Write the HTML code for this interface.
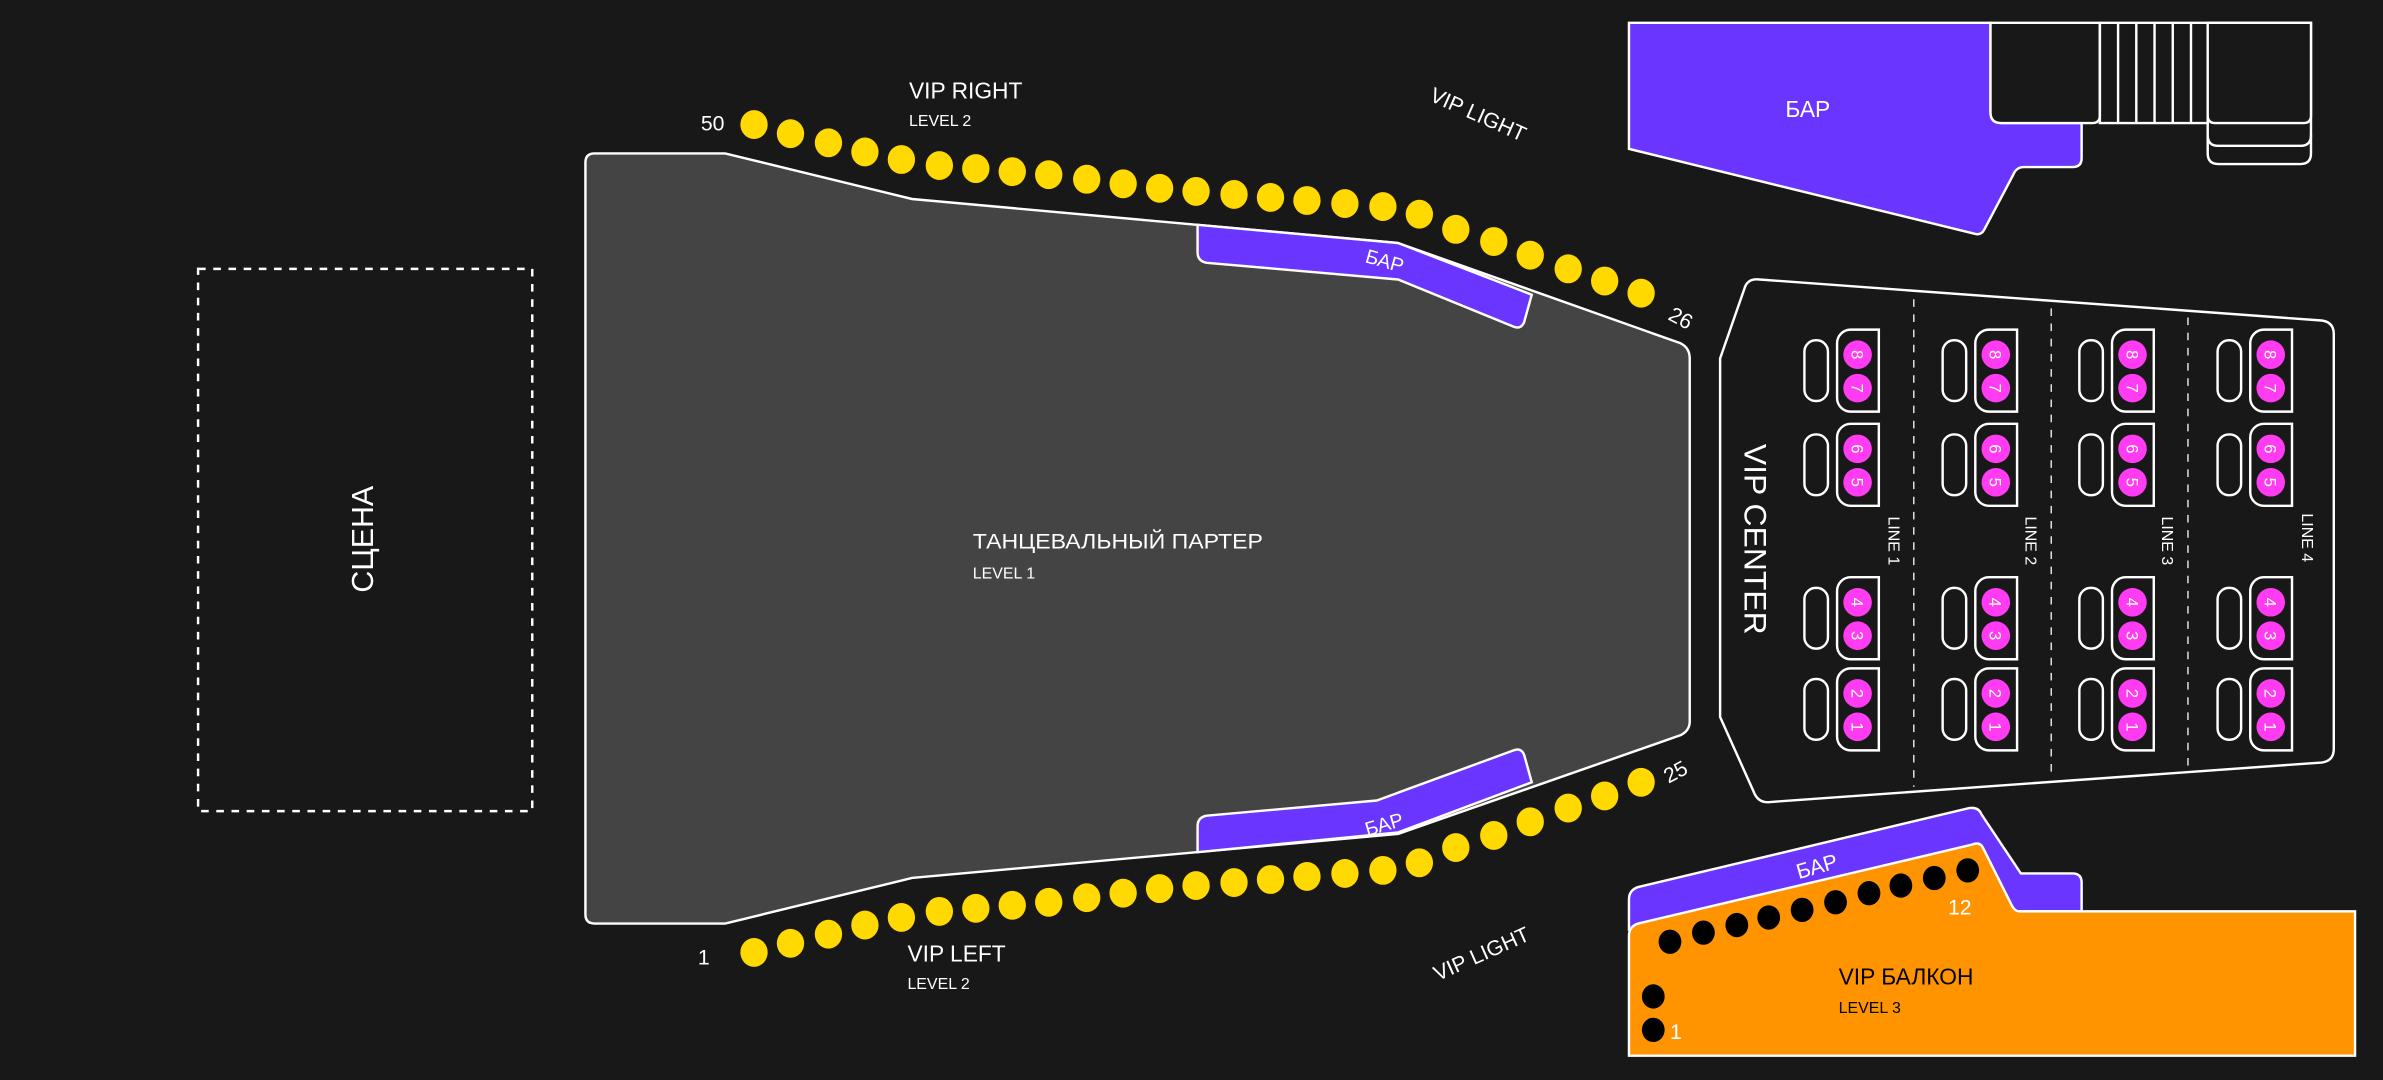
<!DOCTYPE html>
<html><head><meta charset="utf-8"><style>
html,body{margin:0;padding:0;background:#181818;}
svg{display:block;}
text{font-family:"Liberation Sans",sans-serif;}
</style></head><body>
<svg width="2383" height="1080" viewBox="0 0 1568 711" xmlns="http://www.w3.org/2000/svg">
<defs>
<g id="grp">
  <rect x="1187.5" y="224" width="15.5" height="40" rx="7.5" fill="none" stroke="#fff" stroke-width="1.6"/>
  <path d="M1236.5,217 H1218 a9,9 0 0 0 -9,9 V262 a9,9 0 0 0 9,9 H1236.5 Z" fill="none" stroke="#fff" stroke-width="1.6"/>
</g>
</defs>
<rect width="1568" height="711" fill="#181818"/>

<!-- stage -->
<rect x="130" y="177" width="220" height="357" fill="none" stroke="#fff" stroke-width="1.6" stroke-dasharray="5,5"/>
<text transform="translate(245,355) rotate(-90)" text-anchor="middle" font-size="20" fill="#fff">СЦЕНА</text>

<!-- parterre -->
<path d="M391,101 L477,101 L600,131 L920,160 L1106,226 Q1112,229 1112,236 L1112,475 Q1112,481 1106,484 L920,549 L600,578 L477,608 L391,608 Q385,608 385,602 L385,107 Q385,101 391,101 Z" fill="#444" stroke="#fff" stroke-width="1.6"/>
<path d="M788,148 L920,160 L1008,194 L1003,212 Q1001,217 996,215 L920,184 L794,173 Q788,172 788,166 Z" fill="#6a35ff" stroke="#fff" stroke-width="1.6"/>
<text transform="translate(910,176) rotate(16)" text-anchor="middle" font-size="13" fill="#fff">БАР</text>
<path d="M788,561 L920,548 L1008,515 L1003,497 Q1001,492 996,494 L906,527 L794,537 Q788,538 788,544 Z" fill="#6a35ff" stroke="#fff" stroke-width="1.6"/>
<text transform="translate(912,547) rotate(-16)" text-anchor="middle" font-size="13" fill="#fff">БАР</text>
<text x="640" y="361" font-size="14" fill="#fff" textLength="191" lengthAdjust="spacingAndGlyphs">ТАНЦЕВАЛЬНЫЙ ПАРТЕР</text>
<text x="640" y="381" font-size="10.5" fill="#fff">LEVEL 1</text>

<!-- yellow dots top -->
<g fill="#ffd900">
<ellipse cx="496" cy="82" rx="9" ry="9.5"/><ellipse cx="520" cy="88" rx="9" ry="9.5"/><ellipse cx="545" cy="94" rx="9" ry="9.5"/><ellipse cx="569" cy="100" rx="9" ry="9.5"/><ellipse cx="593" cy="105" rx="9" ry="9.5"/><ellipse cx="618" cy="109" rx="9" ry="9.5"/><ellipse cx="642" cy="111" rx="9" ry="9.5"/><ellipse cx="666" cy="113" rx="9" ry="9.5"/><ellipse cx="690" cy="115" rx="9" ry="9.5"/><ellipse cx="715" cy="118" rx="9" ry="9.5"/><ellipse cx="739" cy="121" rx="9" ry="9.5"/><ellipse cx="763" cy="124" rx="9" ry="9.5"/><ellipse cx="787" cy="126" rx="9" ry="9.5"/><ellipse cx="812" cy="128" rx="9" ry="9.5"/><ellipse cx="836" cy="130" rx="9" ry="9.5"/><ellipse cx="860" cy="132" rx="9" ry="9.5"/><ellipse cx="885" cy="134" rx="9" ry="9.5"/><ellipse cx="910" cy="136" rx="9" ry="9.5"/><ellipse cx="934" cy="141" rx="9" ry="9.5"/><ellipse cx="958" cy="151" rx="9" ry="9.5"/><ellipse cx="983" cy="159" rx="9" ry="9.5"/><ellipse cx="1007" cy="168" rx="9" ry="9.5"/><ellipse cx="1032" cy="177" rx="9" ry="9.5"/><ellipse cx="1056" cy="185" rx="9" ry="9.5"/><ellipse cx="1080" cy="193" rx="9" ry="9.5"/>
</g>
<!-- yellow dots bottom -->
<g fill="#ffd900">
<ellipse cx="496" cy="627" rx="9" ry="9.5"/><ellipse cx="520" cy="621" rx="9" ry="9.5"/><ellipse cx="545" cy="615" rx="9" ry="9.5"/><ellipse cx="569" cy="609" rx="9" ry="9.5"/><ellipse cx="593" cy="604" rx="9" ry="9.5"/><ellipse cx="618" cy="600" rx="9" ry="9.5"/><ellipse cx="642" cy="598" rx="9" ry="9.5"/><ellipse cx="666" cy="596" rx="9" ry="9.5"/><ellipse cx="690" cy="594" rx="9" ry="9.5"/><ellipse cx="715" cy="591" rx="9" ry="9.5"/><ellipse cx="739" cy="588" rx="9" ry="9.5"/><ellipse cx="763" cy="585" rx="9" ry="9.5"/><ellipse cx="787" cy="583" rx="9" ry="9.5"/><ellipse cx="812" cy="581" rx="9" ry="9.5"/><ellipse cx="836" cy="579" rx="9" ry="9.5"/><ellipse cx="860" cy="577" rx="9" ry="9.5"/><ellipse cx="885" cy="575" rx="9" ry="9.5"/><ellipse cx="910" cy="573" rx="9" ry="9.5"/><ellipse cx="934" cy="568" rx="9" ry="9.5"/><ellipse cx="958" cy="558" rx="9" ry="9.5"/><ellipse cx="983" cy="550" rx="9" ry="9.5"/><ellipse cx="1007" cy="541" rx="9" ry="9.5"/><ellipse cx="1032" cy="532" rx="9" ry="9.5"/><ellipse cx="1056" cy="524" rx="9" ry="9.5"/><ellipse cx="1080" cy="515" rx="9" ry="9.5"/>
</g>
<text x="461" y="86" font-size="14" fill="#fff">50</text>
<text transform="translate(1097,210) rotate(28)" font-size="14" fill="#fff">26</text>
<text x="459" y="635" font-size="14" fill="#fff">1</text>
<text transform="translate(1098,516) rotate(-28)" font-size="14" fill="#fff">25</text>
<text x="598" y="65" font-size="15" fill="#fff">VIP RIGHT</text>
<text x="598" y="83" font-size="10.5" fill="#fff">LEVEL 2</text>
<text x="597" y="633" font-size="15" fill="#fff">VIP LEFT</text>
<text x="597" y="651" font-size="10.5" fill="#fff">LEVEL 2</text>
<text transform="translate(940,66) rotate(24)" font-size="14" fill="#fff">VIP LIGHT</text>
<text transform="translate(946,646) rotate(-24)" font-size="14" fill="#fff">VIP LIGHT</text>

<!-- top right bar -->
<path d="M1072,15 L1310,15 L1310,74 Q1310,81 1317,81 L1370,81 L1370,104 Q1370,110 1364,110 L1332,110 Q1327,110 1325,115 L1306,151 Q1304,155 1300,154 L1072,98 Z" fill="#6a35ff" stroke="#fff" stroke-width="1.6"/>
<text x="1175" y="77" font-size="15" fill="#fff">БАР</text>
<path d="M1453,15 L1521,15 L1521,101 Q1521,108 1514,108 L1460,108 Q1453,108 1453,101 L1453,81" fill="none" stroke="#fff" stroke-width="1.6"/>
<path d="M1453,89 Q1453,96 1460,96 L1514,96 Q1521,96 1521,89" fill="none" stroke="#fff" stroke-width="1.6"/>
<path d="M1310,15 L1382,15 L1382,76 Q1382,81 1377,81 L1317,81 Q1310,81 1310,74 Z" fill="#181818" stroke="#fff" stroke-width="1.6"/>
<path d="M1382,15 L1382,81 L1453,81 L1453,15 M1394,15 V81 M1406,15 V81 M1418,15 V81 M1430,15 V81 M1442,15 V81 M1382,15 H1453" fill="none" stroke="#fff" stroke-width="1.6"/>
<path d="M1453,15 L1521,15 L1521,76 Q1521,81 1516,81 L1458,81 Q1453,81 1453,76 Z" fill="#181818" stroke="#fff" stroke-width="1.6"/>

<!-- VIP center -->
<path d="M1158,184 L1528,211 Q1536,212 1536,220 L1536,493 Q1536,501 1528,502 L1165,528 Q1157,529 1154,521 L1132,472 L1132,236 L1148,190 Q1150,183 1158,184 Z" fill="#181818" stroke="#fff" stroke-width="1.6"/>
<g stroke="#ddd" stroke-width="1" stroke-dasharray="5,5">
<line x1="1259.5" y1="197" x2="1259.5" y2="518"/>
<line x1="1350" y1="203" x2="1350" y2="512"/>
<line x1="1440" y1="209" x2="1440" y2="506"/>
</g>
<text transform="translate(1148,355) rotate(90)" text-anchor="middle" font-size="21" fill="#fff">VIP CENTER</text>
<g font-size="10.5" fill="#fff">
<text transform="translate(1243,340) rotate(90)">LINE 1</text>
<text transform="translate(1333,340) rotate(90)">LINE 2</text>
<text transform="translate(1423,340) rotate(90)">LINE 3</text>
<text transform="translate(1515,338) rotate(90)">LINE 4</text>
</g>

<g id="col">
  <use href="#grp"/>
  <use href="#grp" transform="translate(0,62)"/>
  <use href="#grp" transform="translate(0,163)"/>
  <use href="#grp" transform="translate(0,223)"/>
  <g fill="#ff3cf2">
    <circle cx="1222.5" cy="233.5" r="9.4"/><circle cx="1222.5" cy="255.5" r="9.4"/>
    <circle cx="1222.5" cy="295.5" r="9.4"/><circle cx="1222.5" cy="317.5" r="9.4"/>
    <circle cx="1222.5" cy="396.5" r="9.4"/><circle cx="1222.5" cy="418.5" r="9.4"/>
    <circle cx="1222.5" cy="456.5" r="9.4"/><circle cx="1222.5" cy="478.5" r="9.4"/>
  </g>
  <g font-size="11" fill="#fff" text-anchor="middle">
    <text transform="translate(1218.5,233.5) rotate(90)">8</text>
    <text transform="translate(1218.5,255.5) rotate(90)">7</text>
    <text transform="translate(1218.5,295.5) rotate(90)">6</text>
    <text transform="translate(1218.5,317.5) rotate(90)">5</text>
    <text transform="translate(1218.5,396.5) rotate(90)">4</text>
    <text transform="translate(1218.5,418.5) rotate(90)">3</text>
    <text transform="translate(1218.5,456.5) rotate(90)">2</text>
    <text transform="translate(1218.5,478.5) rotate(90)">1</text>
  </g>
</g>
<use href="#col" transform="translate(91,0)"/>
<use href="#col" transform="translate(181,0)"/>
<use href="#col" transform="translate(272,0)"/>

<!-- balcony -->
<path d="M1072,612 L1072,592 Q1072,586 1078,584 L1296,532 Q1302,531 1304,536 L1330,575 L1364,575 Q1370,575 1370,581 L1370,600 L1327,600 Z" fill="#6a35ff" stroke="#fff" stroke-width="1.6"/>
<text transform="translate(1197,575) rotate(-16)" text-anchor="middle" font-size="14" fill="#fff">БАР</text>
<path d="M1072,695 L1550,695 L1550,600 L1329,600 Q1326,600 1324,596 L1305,558 Q1303,554 1298,556 L1078,608 Q1072,610 1072,616 Z" fill="#ff9400" stroke="#fff" stroke-width="1.6"/>
<g fill="#000">
<ellipse cx="1099" cy="620" rx="7.5" ry="8"/><ellipse cx="1121" cy="614" rx="7.5" ry="8"/><ellipse cx="1143" cy="609" rx="7.5" ry="8"/><ellipse cx="1164" cy="604" rx="7.5" ry="8"/><ellipse cx="1186" cy="599" rx="7.5" ry="8"/><ellipse cx="1208" cy="594" rx="7.5" ry="8"/><ellipse cx="1230" cy="588" rx="7.5" ry="8"/><ellipse cx="1251" cy="583" rx="7.5" ry="8"/><ellipse cx="1273" cy="578" rx="7.5" ry="8"/><ellipse cx="1295" cy="573" rx="7.5" ry="8"/>
<ellipse cx="1088" cy="656" rx="7.5" ry="8"/><ellipse cx="1088" cy="678" rx="7.5" ry="8"/>
</g>
<text x="1282" y="602" font-size="14" fill="#fff">12</text>
<text x="1099" y="684" font-size="14" fill="#fff">1</text>
<text x="1210" y="648" font-size="15" fill="#000">VIP БАЛКОН</text>
<text x="1210" y="667" font-size="10.5" fill="#000">LEVEL 3</text>
</svg>
</body></html>
